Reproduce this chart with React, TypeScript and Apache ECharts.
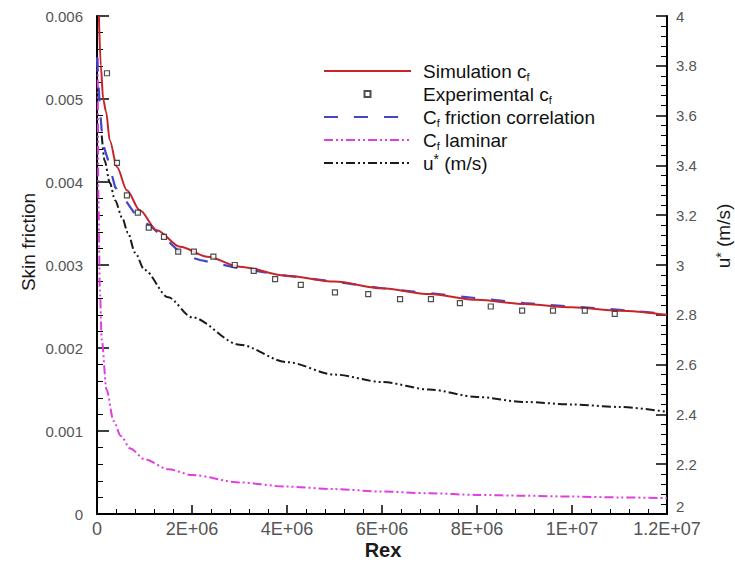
import React, { useEffect, useRef } from "react";
import * as echarts from "echarts";

// ---- data ----
const simX = [4e4, 8e4, 1.3e5, 1.9e5, 2.7e5, 4.2e5, 6.3e5, 9e5, 1.26e6, 1.75e6, 2.32e6, 3e6, 4e6, 5e6, 6e6, 7e6, 8e6, 9e6, 1e7, 1.1e7, 1.2e7];
const simCf = [0.006, 0.0054, 0.005, 0.00485, 0.0045, 0.00418, 0.0039, 0.00366, 0.00342, 0.00322, 0.0031, 0.00298, 0.00287, 0.0028, 0.00272, 0.00265, 0.00258, 0.00253, 0.00249, 0.00245, 0.0024];

const expX = [2.1e5, 4.2e5, 6.3e5, 8.6e5, 1.09e6, 1.41e6, 1.71e6, 2.04e6, 2.45e6, 2.9e6, 3.3e6, 3.75e6, 4.29e6, 5.01e6, 5.71e6, 6.38e6, 7.03e6, 7.64e6, 8.29e6, 8.95e6, 9.6e6, 1.027e7, 1.09e7];
const expCf = [0.00531, 0.00423, 0.00384, 0.00363, 0.00345, 0.00334, 0.00316, 0.00316, 0.0031, 0.003, 0.00293, 0.00283, 0.00276, 0.00267, 0.00265, 0.00259, 0.00259, 0.00254, 0.0025, 0.00245, 0.00245, 0.00245, 0.00241];

const corrX = [0, 2e4, 6e4, 1.2e5, 2.3e5, 3.8e5, 5.5e5, 8.4e5, 1.12e6, 1.47e6, 1.81e6, 2.17e6, 3e6, 4e6, 5e6, 6e6, 7e6, 8e6, 9e6, 1e7, 1.1e7, 1.2e7];
const corrCf = [0.0055, 0.0053, 0.0049, 0.00447, 0.00427, 0.00394, 0.00382, 0.00358, 0.00347, 0.0033, 0.00312, 0.00306, 0.00296, 0.00287, 0.0028, 0.00272, 0.00266, 0.0026, 0.00254, 0.0025, 0.00246, 0.00241];

const lamX = [1.5e4, 3e4, 6e4, 1e5, 2e5, 3.5e5, 5e5, 7e5, 1e6, 1.5e6, 2e6, 3e6, 4e6, 5e6, 6e6, 7e6, 8e6, 9e6, 1e7, 1.1e7, 1.2e7];
const lamCf = [0.0055, 0.0038, 0.0027, 0.0021, 0.0015, 0.00112, 0.00094, 0.00079, 0.00066, 0.00054, 0.00047, 0.00038, 0.00033, 0.0003, 0.00027, 0.00025, 0.00023, 0.00022, 0.00021, 0.0002, 0.00019];

const uX = [1e5, 1.6e5, 2.7e5, 3.8e5, 5.3e5, 6.5e5, 8e5, 1e6, 1.5e6, 2e6, 3e6, 4e6, 5e6, 6e6, 7e6, 8e6, 9e6, 1e7, 1.1e7, 1.2e7];
const uVal = [3.52, 3.42, 3.33, 3.26, 3.19, 3.13, 3.05, 2.98, 2.87, 2.79, 2.68, 2.61, 2.56, 2.53, 2.5, 2.47, 2.45, 2.44, 2.43, 2.41];

const xTickLabels = ["0", "2E+06", "4E+06", "6E+06", "8E+06", "1E+07", "1.2E+07"];
const leftTickLabels = ["0", "0.001", "0.002", "0.003", "0.004", "0.005", "0.006"];
const rightTickLabels = ["2", "2.2", "2.4", "2.6", "2.8", "3", "3.2", "3.4", "3.6", "3.8", "4"];

const seriesNames = ["Simulation cf", "Experimental cf", "Cf friction correlation", "Cf laminar", "u* (m/s)"];
const legendLabels = [
  "Simulation c{sub|f}",
  "Experimental c{sub|f}",
  "C{sub|f} friction correlation",
  "C{sub|f} laminar",
  "u{sup|*} (m/s)",
];

const FONT = "'Liberation Sans', Arial, Helvetica, sans-serif";

const zip = (xs: number[], ys: number[]) => xs.map((x, i) => [x, ys[i]]);

export default function App() {
  const ref = useRef<HTMLDivElement>(null);
  useEffect(() => {
    document.body.style.margin = "0";
    if (!ref.current) return;
    const chart = echarts.init(ref.current, null, { renderer: "svg" });

    const axisLine = { show: true, lineStyle: { color: "#000", width: 2 } };
    const hiddenDot = { opacity: 0 };
    const option: any = {
      animation: false,
      backgroundColor: "#fff",
      textStyle: { fontFamily: FONT },
      grid: { left: 97, right: 68, top: 16, bottom: 48, containLabel: false },
      legend: {
        orient: "vertical",
        left: 318,
        top: 55,
        itemWidth: 87,
        itemHeight: 6,
        itemGap: 1,
        selectedMode: false,
        data: [
          { name: seriesNames[0], itemStyle: hiddenDot },
          { name: seriesNames[1], icon: "path://M0,0h10v10h-10z" },
          { name: seriesNames[2], itemStyle: hiddenDot },
          { name: seriesNames[3], itemStyle: hiddenDot },
          { name: seriesNames[4], itemStyle: hiddenDot },
        ],
        formatter: (name: string) => legendLabels[seriesNames.indexOf(name)],
        textStyle: {
          fontFamily: FONT,
          fontSize: 19,
          color: "#111",
          lineHeight: 22,
          padding: [0, 0, 0, 7],
          rich: {
            sub: { fontSize: 11, lineHeight: 12, verticalAlign: "bottom", fontFamily: FONT, color: "#111" },
            sup: { fontSize: 14, lineHeight: 14, verticalAlign: "top", fontFamily: FONT, color: "#111" },
          },
        },
      },
      xAxis: {
        type: "value",
        min: 0,
        max: 1.2e7,
        interval: 2e6,
        splitLine: { show: false },
        axisLine,
        axisTick: { show: true, inside: true, length: 9, lineStyle: { color: "#000", width: 1.5 } },
        minorTick: { show: true, splitNumber: 5, length: 5, lineStyle: { color: "#000", width: 1 } },
        axisLabel: {
          margin: 6,
          fontSize: 18,
          color: "#555",
          fontFamily: FONT,
          formatter: (v: number) => xTickLabels[Math.round(v / 2e6)] ?? "",
        },
      },
      yAxis: [
        {
          type: "value",
          min: 0,
          max: 0.006,
          interval: 0.001,
          position: "left",
          splitLine: { show: false },
          axisLine,
          axisTick: { show: true, inside: true, length: 12, lineStyle: { color: "#000", width: 1.5 } },
          minorTick: { show: true, splitNumber: 5, length: 6, lineStyle: { color: "#000", width: 1 } },
          axisLabel: {
            margin: 14,
            fontSize: 15,
            color: "#555",
            fontFamily: FONT,
            formatter: (v: number) => leftTickLabels[Math.round(v / 0.001)] ?? "",
          },
        },
        {
          type: "value",
          min: 2,
          max: 4,
          interval: 0.2,
          position: "right",
          splitLine: { show: false },
          axisLine,
          axisTick: { show: true, inside: true, length: 11, lineStyle: { color: "#000", width: 1.5 } },
          minorTick: { show: true, splitNumber: 5, length: 6, lineStyle: { color: "#000", width: 1 } },
          axisLabel: {
            margin: 9,
            fontSize: 15,
            color: "#555",
            fontFamily: FONT,
            formatter: (v: number) => {
              const idx = Math.round((v - 2) / 0.2);
              const t = rightTickLabels[idx] ?? "";
              return idx === 0 ? `{low|${t}}` : t;
            },
            rich: {
              low: { fontSize: 15, color: "#555", fontFamily: FONT, padding: [0, 0, 16, 0] },
            },
          },
        },
      ],
      graphic: [
        {
          type: "text",
          x: 28,
          y: 242,
          rotation: Math.PI / 2,
          style: {
            text: "Skin friction",
            font: `19px ${FONT}`,
            fill: "#1a1a1a",
            align: "center",
            verticalAlign: "middle",
          },
        },
        {
          type: "text",
          x: 383,
          y: 550,
          style: {
            text: "Rex",
            font: `bold 20px ${FONT}`,
            fill: "#1a1a1a",
            align: "center",
            verticalAlign: "middle",
          },
        },
        {
          type: "text",
          x: 723,
          y: 236,
          rotation: Math.PI / 2,
          style: {
            text: "u{sup|*} (m/s)",
            font: `19px ${FONT}`,
            fill: "#1a1a1a",
            align: "center",
            verticalAlign: "middle",
            rich: {
              sup: { fontSize: 14, fontFamily: FONT, fill: "#1a1a1a", verticalAlign: "top", lineHeight: 12 },
            },
          },
        },
      ],
      series: [
        {
          name: seriesNames[0],
          type: "line",
          data: zip(simX, simCf),
          showSymbol: false,
          symbol: "none",
          smooth: 0.3,
          smoothMonotone: "x",
          lineStyle: { color: "#c4262c", width: 2 },
          itemStyle: { color: "#c4262c" },
          z: 4,
        },
        {
          name: seriesNames[1],
          type: "scatter",
          data: zip(expX, expCf),
          symbol: "rect",
          symbolSize: 5,
          itemStyle: { color: "#fff", borderColor: "#222", borderWidth: 1.2 },
          z: 5,
        },
        {
          name: seriesNames[2],
          type: "line",
          data: zip(corrX, corrCf),
          symbol: "none",
          lineStyle: { color: "#4444cc", width: 2.2, type: [14, 16] },
          itemStyle: { color: "#4444cc" },
          z: 3,
        },
        {
          name: seriesNames[3],
          type: "line",
          data: zip(lamX, lamCf),
          symbol: "none",
          smooth: 0.3,
          smoothMonotone: "x",
          lineStyle: { color: "#e03ee0", width: 2, type: [9, 3, 2, 3, 2, 3] },
          itemStyle: { color: "#e03ee0" },
          z: 2,
        },
        {
          name: seriesNames[4],
          type: "line",
          yAxisIndex: 1,
          data: zip(uX, uVal),
          symbol: "none",
          smooth: 0.3,
          smoothMonotone: "x",
          lineStyle: { color: "#1a1a1a", width: 2, type: [9, 3, 2, 3, 2, 3] },
          itemStyle: { color: "#1a1a1a" },
          z: 2,
        },
      ],
    };
    chart.setOption(option);
    return () => chart.dispose();
  }, []);
  return <div ref={ref} style={{ width: 735, height: 562 }} />;
}
